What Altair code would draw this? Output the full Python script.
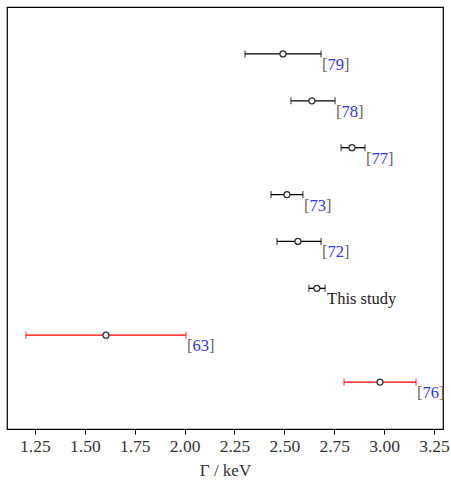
import altair as alt
import pandas as pd

labels = ["79", "78", "77", "73", "72", "This study", "63", "76"]
centers = [2.493, 2.638, 2.839, 2.513, 2.568, 2.663, 1.606, 2.979]
lows = [2.303, 2.533, 2.784, 2.433, 2.463, 2.623, 1.205, 2.799]
highs = [2.684, 2.754, 2.904, 2.593, 2.684, 2.704, 2.007, 3.160]
rows = [8, 7, 6, 5, 4, 3, 2, 1]
bar_colors = ["black", "black", "black", "black", "black", "black", "red", "red"]
tick_values = [1.25, 1.5, 1.75, 2.0, 2.25, 2.5, 2.75, 3.0, 3.25]

df = pd.DataFrame({
    "label": labels, "c": centers, "lo": lows, "hi": highs,
    "row": rows, "col": bar_colors,
})
df["isref"] = df["label"] != "This study"

FONT = "Liberation Serif"
xs = alt.Scale(domain=[1.11, 3.295], nice=False, zero=False)
ys = alt.Scale(domain=[0, 9], nice=False, zero=False)

xaxis = alt.Axis(
    title="Γ / keV", values=tick_values,
    format=".2f", grid=False, domain=False, tickColor="black", tickSize=5,
    labelFont=FONT, labelFontSize=17.5, labelColor="#333", labelPadding=3,
    titleFont=FONT, titleFontSize=17, titleFontWeight="normal", titleColor="#333",
    titlePadding=8)
yenc = alt.Y("row:Q", scale=ys, axis=None)

base = alt.Chart(df)

bars = base.mark_rule(strokeWidth=1.3).encode(
    x=alt.X("lo:Q", scale=xs, axis=xaxis), x2="hi:Q", y=yenc,
    color=alt.Color("col:N", scale=None))
capl = base.mark_tick(orient="vertical", size=7, thickness=1.2).encode(
    x=alt.X("lo:Q", scale=xs, axis=xaxis), y=yenc, color=alt.Color("col:N", scale=None))
caph = base.mark_tick(orient="vertical", size=7, thickness=1.2).encode(
    x=alt.X("hi:Q", scale=xs, axis=xaxis), y=yenc, color=alt.Color("col:N", scale=None))
pts = base.mark_point(shape="circle", filled=True, fill="white", stroke="#333",
                      strokeWidth=1.3, size=36, opacity=1).encode(
    x=alt.X("c:Q", scale=xs, axis=xaxis), y=yenc)

refs = base.transform_filter("datum.isref")
lb = refs.mark_text(align="left", baseline="middle", dx=1, dy=11, font=FONT,
                    fontSize=16.5, color="#666").encode(
    x=alt.X("hi:Q", scale=xs, axis=xaxis), y=yenc, text=alt.value("["))
num = refs.mark_text(align="left", baseline="middle", dx=6.5, dy=11, font=FONT,
                     fontSize=16.5, color="#3333ff").encode(
    x=alt.X("hi:Q", scale=xs, axis=xaxis), y=yenc, text="label:N")
rb = refs.mark_text(align="left", baseline="middle", dx=23, dy=11, font=FONT,
                    fontSize=16.5, color="#666").encode(
    x=alt.X("hi:Q", scale=xs, axis=xaxis), y=yenc, text=alt.value("]"))
study = base.transform_filter("!datum.isref").mark_text(
    align="left", baseline="middle", dx=2, dy=11, font=FONT, fontSize=16.5,
    color="#222").encode(x=alt.X("hi:Q", scale=xs, axis=xaxis), y=yenc, text="label:N")

chart = alt.layer(bars, capl, caph, pts, lb, num, rb, study).properties(
    width=436, height=422,
    padding={"left": 7, "top": 7, "right": 8, "bottom": 51},
    autosize=alt.AutoSizeParams(type="none"),
).configure_view(stroke="black", strokeWidth=1.2)

chart.save("out.html", embed_options={"renderer": "svg", "actions": False})
